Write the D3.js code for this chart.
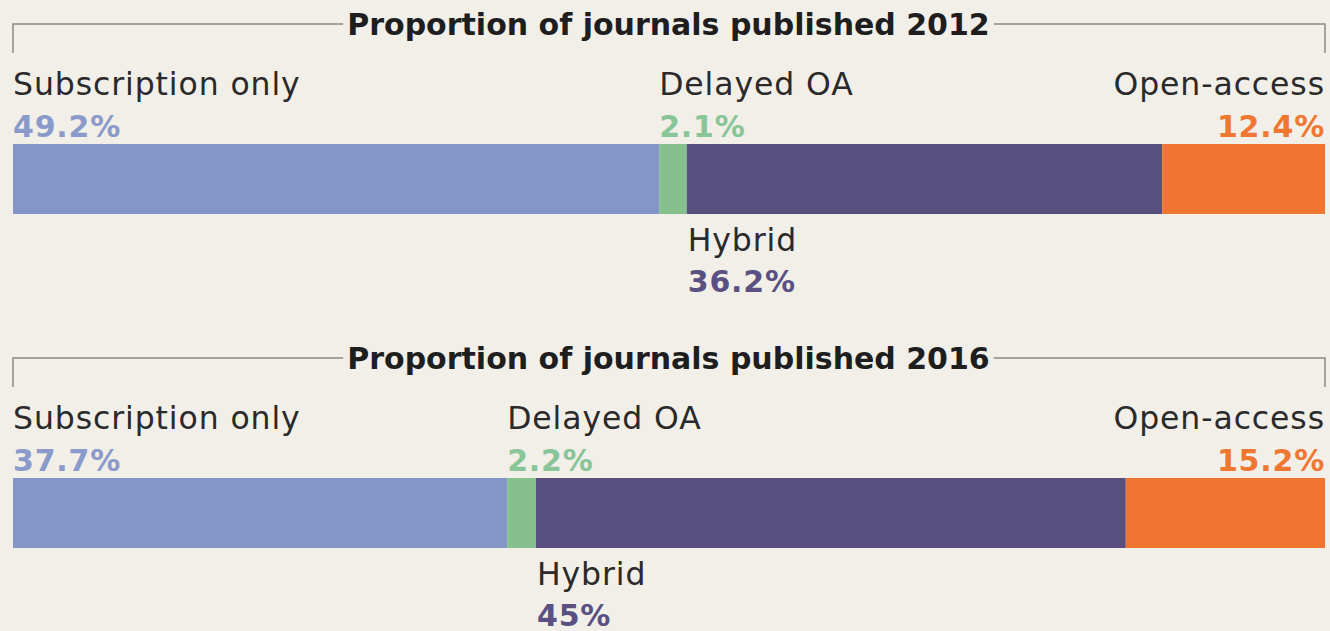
<!DOCTYPE html>
<html>
<head>
<meta charset="utf-8">
<script src="https://d3js.org/d3.v7.min.js"></script>
<style>
  body { margin: 0; background: #f1efe8; }
  svg { display: block; }
</style>
</head>
<body>
<div id="chart"></div>
<script>
// data
var years = ["2012", "2016"];
var categories = ["Subscription only", "Delayed OA", "Hybrid", "Open-access"];
var values2012 = [49.2, 2.1, 36.2, 12.4];
var values2016 = [37.7, 2.2, 45, 15.2];
var pctLabels2012 = ["49.2%", "2.1%", "36.2%", "12.4%"];
var pctLabels2016 = ["37.7%", "2.2%", "45%", "15.2%"];

var barColors = ["#8496c8", "#86c08e", "#57507e", "#ef7530"];
var textColors = ["#8a9bcb", "#88c598", "#5a5182", "#ef7732"];

var W = 1330, H = 631;
var left = 13, right = 1325;
var panelH = 334;
var font = "'DejaVu Sans', sans-serif";

var svg = d3.select("#chart").append("svg")
    .attr("width", W).attr("height", H)
    .style("font-family", font);

svg.append("rect").attr("width", W).attr("height", H).attr("fill", "#f1efe8");

var panels = [
  {year: years[0], values: values2012, pct: pctLabels2012},
  {year: years[1], values: values2016, pct: pctLabels2016}
];

panels.forEach(function(p, pi) {
  var g = svg.append("g").attr("transform", "translate(0," + (pi * panelH) + ")");

  var total = d3.sum(p.values);
  var x = d3.scaleLinear().domain([0, total]).range([left, right]);

  var segs = [];
  var acc = 0;
  p.values.forEach(function(v, i) {
    segs.push({i: i, x0: acc, x1: acc + v, name: categories[i], pct: p.pct[i]});
    acc += v;
  });

  // bracket with title
  var title = g.append("text")
      .attr("x", 668.5)
      .attr("y", 35)
      .attr("text-anchor", "middle")
      .attr("font-size", 30)
      .attr("font-weight", "bold")
      .attr("fill", "#1e1e1e")
      .text("Proportion of journals published " + p.year);
  var bb = title.node().getBBox();

  var line = g.append("g").attr("stroke", "#8a8a86").attr("stroke-width", 1.5).attr("fill", "none");
  line.append("path").attr("d", "M" + left + ",53V24H" + (bb.x - 4));
  line.append("path").attr("d", "M" + (bb.x + bb.width + 4) + ",24H" + right + "V53");

  // bars
  g.selectAll("rect.seg").data(segs).join("rect")
      .attr("class", "seg")
      .attr("x", d => x(d.x0))
      .attr("width", d => x(d.x1) - x(d.x0))
      .attr("y", 144)
      .attr("height", 70)
      .attr("fill", d => barColors[d.i]);

  // labels: hybrid goes below the bar, others above
  segs.forEach(function(d) {
    var anchor = "start", lx = x(d.x0), y1 = 95, y2 = 137;
    if (d.i === 3) { anchor = "end"; lx = right; }
    if (d.i === 2) { y1 = 251; y2 = 292; lx = x(d.x0) + 1; }
    g.append("text")
        .attr("x", lx).attr("y", y1)
        .attr("text-anchor", anchor)
        .attr("font-size", 31.5)
        .attr("letter-spacing", 0.9)
        .attr("fill", "#2a2a2a")
        .text(d.name);
    g.append("text")
        .attr("x", lx).attr("y", y2)
        .attr("text-anchor", anchor)
        .attr("font-size", 30)
        .attr("font-weight", "bold")
        .attr("letter-spacing", 0.8)
        .attr("fill", textColors[d.i])
        .text(d.pct);
  });
});
</script>
</body>
</html>
